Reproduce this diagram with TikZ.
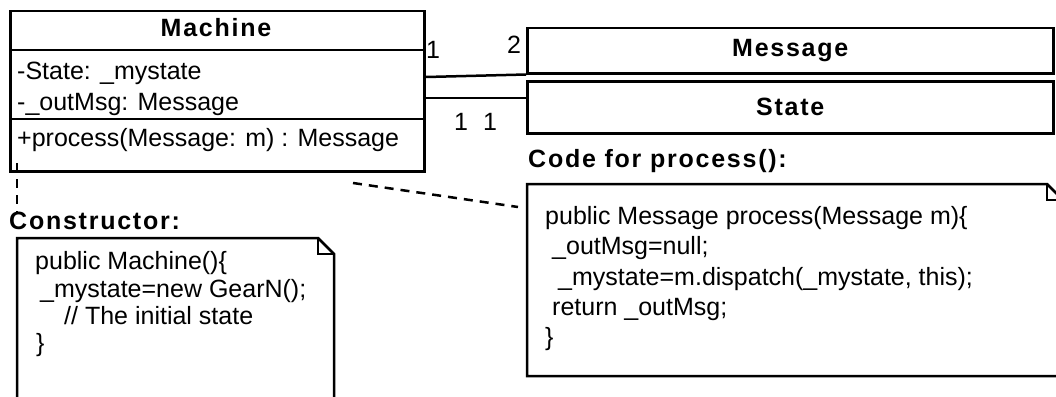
\documentclass[tikz,border=0pt]{standalone}
\usepackage{fontspec}
\setmainfont{Liberation Sans}
\newfontfamily\titlefont{Liberation Sans}[LetterSpace=7]
\usetikzlibrary{calc}

\tikzset{
  txt/.style={inner sep=0pt, font=\fontsize{25}{29}\selectfont},
  ttl/.style={inner sep=0pt, font=\titlefont\bfseries\fontsize{25}{29}\selectfont},
  classbox/.style={draw, line width=2.5pt, inner sep=0pt, anchor=north west},
  link/.style={line width=2.5pt},
  dashlink/.style={line width=2.5pt, dash pattern=on 9pt off 7pt},
  notepath/.style={line width=2.5pt, line join=miter}
}

\begin{document}
\begin{tikzpicture}[x=1pt, y=-1pt]
\useasboundingbox (0,0) rectangle (1056,396);
\clip (0,0) rectangle (1056,396);

% Machine class with its compartments
\node[classbox, minimum width=414pt, minimum height=160pt] (machine) at (9,10) {};
\node[ttl, anchor=base] (machinetitle) at (216,37) {Machine};
\draw[link] ($(machine.north west)+(0,40)$) -- ++(417,0);
\draw[link] ($(machine.north west)+(0,109)$) -- ++(417,0);
\node[txt, anchor=base west] (attr1) at (17,79) {-State: \_mystate};
\node[txt, anchor=base west] (attr2) at (17,110) {-\_outMsg: Message};
\node[txt, anchor=base west] (op1) at (17,146) {+process(Message: m) : Message};

% Message and State classes
\node[classbox, minimum width=526pt, minimum height=45pt] (msg) at (526,27) {};
\node[ttl] (msgtitle) at (msg.center) {Message};
\node[classbox, minimum width=526pt, minimum height=52pt] (state) at (526,80) {};
\node[ttl] (statetitle) at (state.center) {State};

% Associations with multiplicities
\coordinate (mA) at (426,77);
\coordinate (mB) at (426,98);
\draw[link] (mA) -- (msg.south west);
\draw[link] (mB) -- (mB -| state.west);
\node[txt] (mult1) at (433,50) {1};
\node[txt] (mult2) at (514,45) {2};
\node[txt] (mult3) at (461,122) {1};
\node[txt] (mult4) at (490,122) {1};

% Note labels
\node[ttl, anchor=base west] (ctor) at (9,229) {Constructor:};
\node[ttl, anchor=base west] (codelbl) at (528,167) {Code for process():};

% Constructor note
\draw[notepath] (17,400) -- (17,238) -- (318,238) -- (334,254) -- (334,400);
\draw[notepath] (318,238) -- (318,254) -- (334,254);
\node[txt, anchor=base west] (c1) at (35,269) {public Machine()\{};
\node[txt, anchor=base west] (c2) at (40,297) {\_mystate=new GearN();};
\node[txt, anchor=base west] (c3) at (64,324) {// The initial state};
\node[txt, anchor=base west] (c4) at (36,351) {\}};

% process() note
\draw[notepath] (527,376) -- (527,184) -- (1047,184) -- (1063,200) -- (1063,376) -- cycle;
\draw[notepath] (1047,184) -- (1047,200) -- (1063,200);
\node[txt, anchor=base west] (p1) at (545,224) {public Message process(Message m)\{};
\node[txt, anchor=base west] (p2) at (552,254) {\_outMsg=null;};
\node[txt, anchor=base west] (p3) at (558,285) {\_mystate=m.dispatch(\_mystate, this);};
\node[txt, anchor=base west] (p4) at (552,315) {return \_outMsg;};
\node[txt, anchor=base west] (p5) at (545,345) {\}};

% Note anchors
\coordinate (d1) at (17,163);
\draw[dashlink] (d1) -- (d1 |- ctor.north);
\coordinate (d2) at (353,183);
\coordinate (d3) at (518,207);
\draw[dashlink] (d2) -- (d3);
\end{tikzpicture}
\end{document}
